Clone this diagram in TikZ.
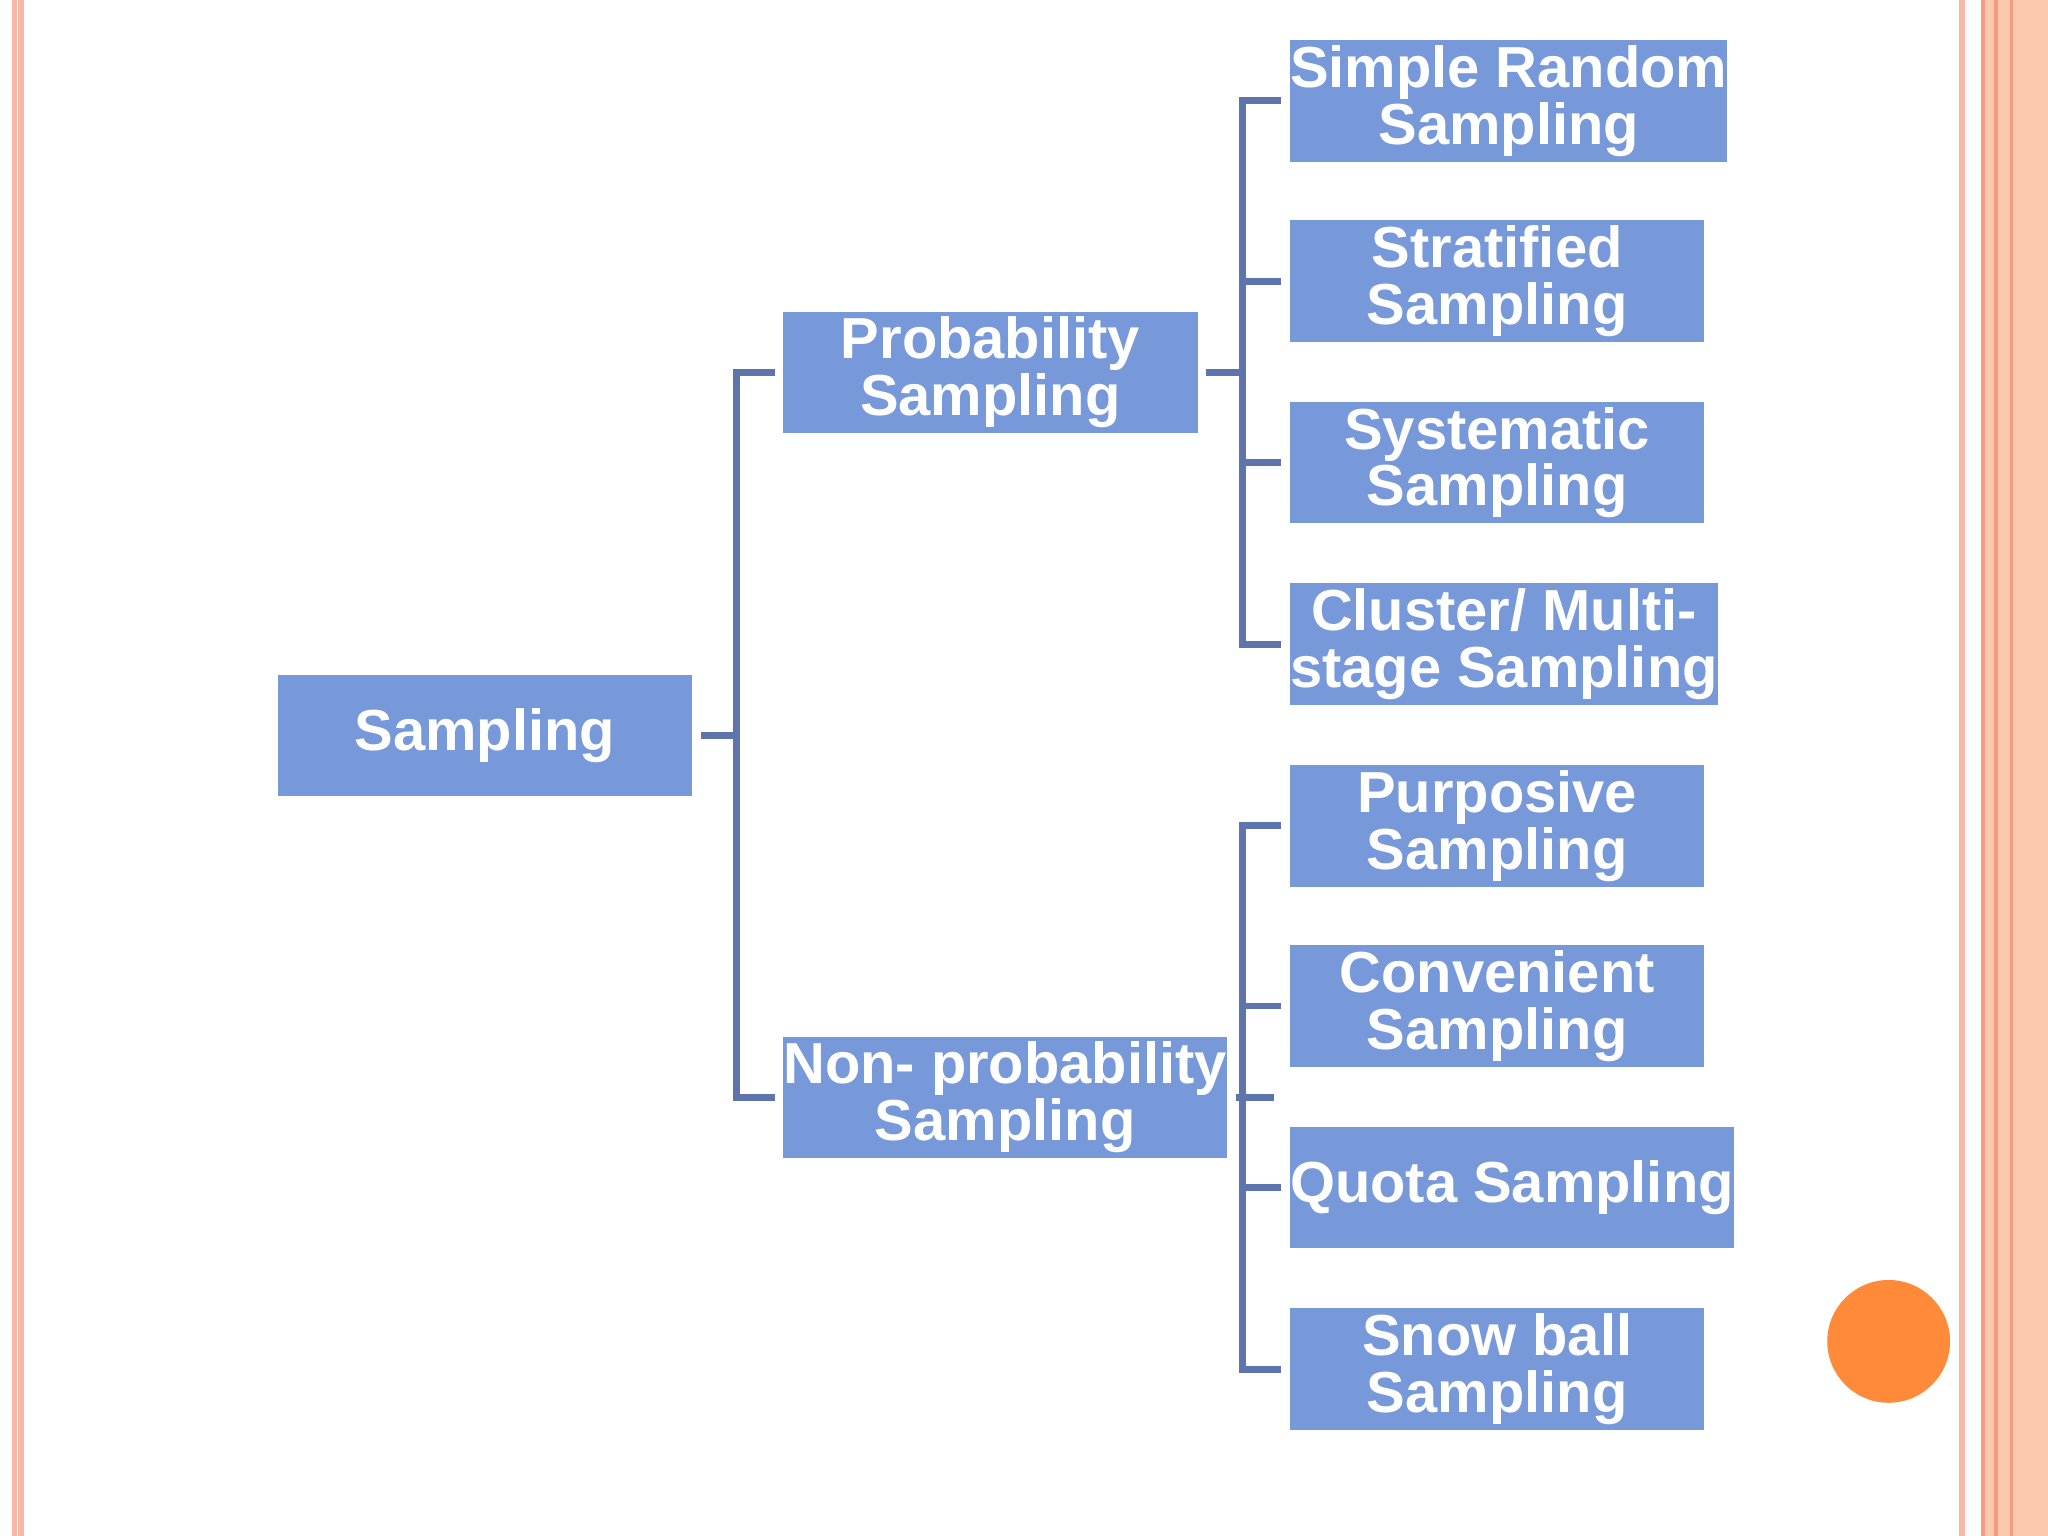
\documentclass[tikz,border=0pt]{standalone}
\usepackage{fontspec}
\setmainfont{Liberation Sans}
\begin{document}
\begin{tikzpicture}[x=0.01cm,y=-0.01cm,
 box/.style={fill=boxc,draw=none,minimum width=3.17cm,minimum height=0.93cm,inner sep=0pt,
   text=white,font=\bfseries\fontsize{12.6}{12.4}\selectfont,align=center,anchor=north west},
 con/.style={draw=linec,line width=1.5pt}]
\definecolor{boxc}{HTML}{7799D9}
\definecolor{linec}{HTML}{5E74AC}
\definecolor{pinkl}{HTML}{F7B9A6}
\definecolor{salmon}{HTML}{FCC8AE}
\definecolor{orng}{HTML}{FF8A3A}
\definecolor{bgc}{HTML}{FDFDFB}
\definecolor{dpink}{HTML}{F49B82}
\useasboundingbox (0,0) rectangle (1568,1176);
\fill[bgc] (0,0) rectangle (1568,1176);
\fill[white] (18,0) rectangle (1500,1176);
\draw[pinkl,line width=1.2pt] (11,0)--(11,1176);
\draw[pinkl,line width=1.2pt] (16,0)--(16,1176);
\fill[salmon] (1518,0) rectangle (1568,1176);
\draw[pinkl,line width=1.2pt] (1502,0)--(1502,1176);
\draw[dpink,line width=0.8pt] (1518,0)--(1518,1176);
\draw[dpink,line width=0.8pt] (1528,0)--(1528,1176);
\draw[dpink,line width=0.8pt] (1540,0)--(1540,1176);
\fill[orng] (1446,1027) circle (47);
\node[box] (s) at (212,516) {Sampling};
\node[box] (p) at (599,238) {Probability\\Sampling};
\node[box] (n) at (599,793) {Non- probability\\Sampling};
\node[box] (a1) at (987,30) {Simple Random\\Sampling};
\node[box] (a2) at (987,168) {Stratified\\Sampling};
\node[box] (a3) at (987,307) {Systematic\\Sampling};
\node[box] (a4) at (987,446) {Cluster/ Multi-\\stage Sampling};
\node[box] (b1) at (987,585) {Purposive\\Sampling};
\node[box] (b2) at (987,723) {Convenient\\Sampling};
\node[box] (b3) at (987,862) {Quota Sampling};
\node[box] (b4) at (987,1001) {Snow ball\\Sampling};
\draw[con] ([xshift=0.06cm]s.east) -- ++(29,0);
\draw[con] ([xshift=-0.06cm]p.west) -| ([xshift=-0.35cm]p.west) |- ([xshift=-0.06cm]n.west);
\draw[con] ([xshift=0.06cm]p.east) -- ++(29,0);
\draw[con] ([xshift=0.06cm]n.east) -- ++(29,0);
\draw[con] ([xshift=-0.06cm]a1.west) -| ([xshift=-0.36cm]a1.west) |- ([xshift=-0.06cm]a4.west);
\draw[con] ([xshift=-0.06cm]a2.west) -- ([xshift=-0.36cm]a2.west);
\draw[con] ([xshift=-0.06cm]a3.west) -- ([xshift=-0.36cm]a3.west);
\draw[con] ([xshift=-0.06cm]b1.west) -| ([xshift=-0.36cm]b1.west) |- ([xshift=-0.06cm]b4.west);
\draw[con] ([xshift=-0.06cm]b2.west) -- ([xshift=-0.36cm]b2.west);
\draw[con] ([xshift=-0.06cm]b3.west) -- ([xshift=-0.36cm]b3.west);
\end{tikzpicture}
\end{document}
